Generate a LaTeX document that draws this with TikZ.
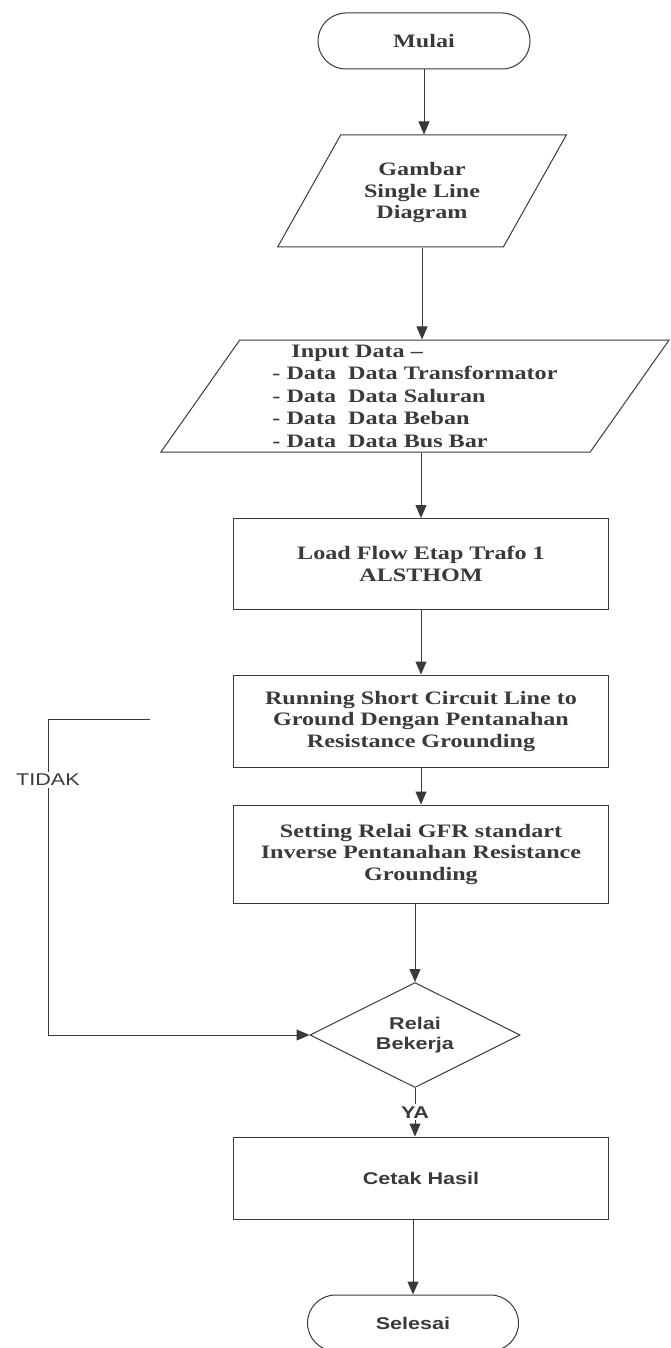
\documentclass[tikz,border=0pt]{standalone}
\usepackage{fontspec}
\setmainfont{Liberation Serif}[FakeStretch=1.27]
\newfontfamily\sansfnt{Liberation Sans}[FakeStretch=1.27]
\usepackage{tikz}
\usetikzlibrary{arrows.meta, positioning, shapes.geometric, shapes.misc}
\definecolor{inkgray}{HTML}{3A3A3A}
\tikzset{%
    serifbold/.style={%
        font=\fontsize{19}{21.5}\selectfont\bfseries, text=inkgray
    },
    sansbold/.style={%
        font=\sansfnt\fontsize{17}{20}\selectfont\bfseries, text=inkgray
    },
    sanslabel/.style={%
        font=\sansfnt\fontsize{17}{20}\selectfont, text=inkgray, fill=white, inner sep=2pt
    },
}

\begin{document}
\begin{tikzpicture}[
        x=1pt, y=-1pt,
        every node/.style={inner sep=0},
        term/.style={draw=inkgray, line width=1pt, rounded rectangle, minimum width=212pt, minimum height=56pt},
        iobox/.style={draw=inkgray, line width=1pt, trapezium, trapezium stretches=true, minimum height=112pt, serifbold},
        procbox/.style={draw=inkgray, line width=1pt, rectangle, minimum width=375pt, align=center, serifbold},
        decide/.style={draw=inkgray, line width=1pt, diamond, aspect=2, minimum width=210pt, minimum height=105pt, align=center, sansbold},
        flow/.style={draw=inkgray, line width=1pt, -{Triangle[length=13pt, width=11pt]}},
    ]
        \useasboundingbox (0,0) rectangle (671,1348);

        \node[term, serifbold] (mulai) at (424, 41) {Mulai};
        \node[iobox, align=center, trapezium left angle=55, trapezium right angle=125, minimum width=289pt] (gambar) at (422, 191) {\rule{0pt}{17pt}Gambar\\Single Line\\Diagram};
        \node[iobox, align=left, trapezium left angle=58, trapezium right angle=122, minimum width=510pt] (input) at (415, 396) {\hspace{19pt}Input Data --\\[1pt]- Data\ \ Data Transformator\\[1pt]- Data\ \ Data Saluran\\[1pt]- Data\ \ Data Beban\\[1pt]- Data\ \ Data Bus Bar};
        \node[procbox, minimum height=91pt] (loadflow) at (421, 564) {Load Flow Etap Trafo 1\\ALSTHOM};
        \node[procbox, minimum height=92pt] (running) at (421, 721) {Running Short Circuit Line to\\Ground Dengan Pentanahan\\Resistance Grounding};
        \node[procbox, minimum height=98pt] (setting) at (421, 854) {Setting Relai GFR standart\\Inverse Pentanahan Resistance\\Grounding};
        \node[decide] (relai) at (415, 1035) {Relai\\Bekerja};
        \node[procbox, sansbold, minimum height=82pt] (cetak) at (421, 1178) {Cetak Hasil};
        \node[term, sansbold, minimum width=211pt] (selesai) at (413, 1323) {Selesai};

        \coordinate (loopend) at (150, 719);
        \coordinate (loopcorner) at (48, 719);

        \draw[flow] (mulai.south) -- (mulai.south |- gambar.north);
        \draw[flow] (gambar.south) -- (gambar.south |- input.north);
        \draw[flow] (input.south -| loadflow.north) -- (loadflow.north);
        \draw[flow] (loadflow.south) -- (running.north);
        \draw[flow] (running.south) -- (setting.north);
        \draw[flow] (setting.south -| relai.north) -- (relai.north);
        \draw[flow] (relai.south) -- (relai.south |- cetak.north) node[sanslabel, font=\sansfnt\fontsize{17}{20}\selectfont\bfseries, pos=0.5] (ya) {YA};
        \draw[flow] (selesai.north |- cetak.south) -- (selesai.north);
        \draw[flow] (loopend) -- (loopcorner) |- (relai.west);
        \node[sanslabel] (tidak) at (48, 780) {TIDAK};

    \end{tikzpicture}
\end{document}
